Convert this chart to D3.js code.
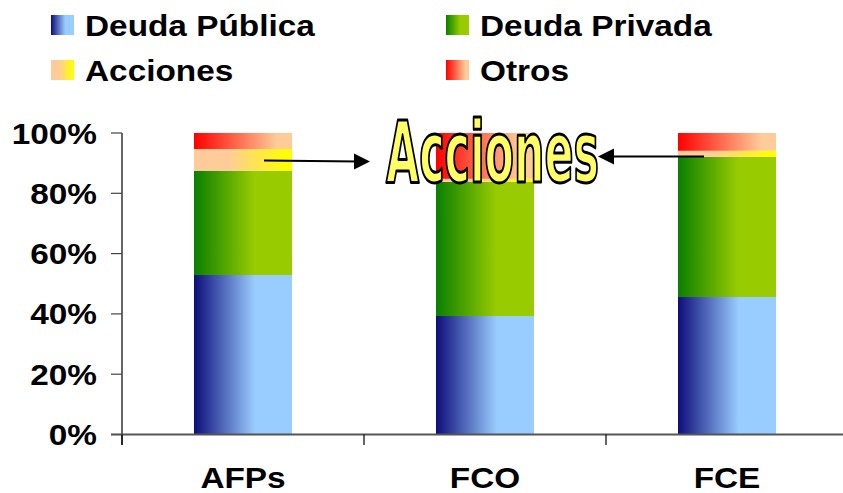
<!DOCTYPE html>
<html>
<head>
<meta charset="utf-8">
<script src="https://cdn.jsdelivr.net/npm/d3@7"></script>
<style>
html,body{margin:0;padding:0;background:#fff;}
svg{display:block;}
</style>
</head>
<body>
<svg id="chart" width="843" height="493"></svg>
<script>
// ---- data ----
const categories = ["AFPs", "FCO", "FCE"];
const seriesNames = ["Deuda Pública", "Deuda Privada", "Acciones", "Otros"];
const deudaPublica = [52.9, 39.3, 45.6];
const deudaPrivada = [34.6, 44.5, 46.5];
const acciones = [7.2, 1.0, 2.0];
const otros = [5.3, 15.2, 5.9];
const yTicks = [0, 20, 40, 60, 80, 100];
const yTickLabels = ["0%", "20%", "40%", "60%", "80%", "100%"];
const annotationText = "Acciones";

const svg = d3.select("#chart");
const FONT = "'Liberation Sans', Arial, sans-serif";
const STRETCH = 1.15;

// gradients
const defs = svg.append("defs");
const grads = [
  {id: "g0", stops: [[0, "#0d0d7a"], [0.62, "#99ccff"], [1, "#99ccff"]]},
  {id: "g1", stops: [[0, "#0a7f00"], [0.62, "#99cc00"], [1, "#99cc00"]]},
  {id: "g2", stops: [[0, "#ffcc99"], [0.35, "#ffcc99"], [0.95, "#ffff00"], [1, "#ffff00"]]},
  {id: "g3", stops: [[0, "#ff0000"], [0.85, "#ffcc99"], [1, "#ffcc99"]]}
];
grads.forEach(g => {
  const lg = defs.append("linearGradient").attr("id", g.id)
    .attr("x1", "0%").attr("x2", "100%").attr("y1", "0%").attr("y2", "0%");
  g.stops.forEach(s => lg.append("stop").attr("offset", s[0]).attr("stop-color", s[1]));
});

// scales
const x = d3.scaleBand().domain(categories).range([122, 848])
  .paddingInner(0.595).paddingOuter(0.2975);
const y = d3.scaleLinear().domain([0, 100]).range([434.5, 133]);

// stack
const rows = categories.map((c, i) => ({
  cat: c, s0: deudaPublica[i], s1: deudaPrivada[i], s2: acciones[i], s3: otros[i]
}));
const stack = d3.stack().keys(["s0", "s1", "s2", "s3"])(rows);

const barsG = svg.append("g");
stack.forEach((layer, li) => {
  barsG.selectAll(null).data(layer).enter().append("rect")
    .attr("x", d => x(d.data.cat))
    .attr("width", x.bandwidth())
    .attr("y", d => y(d[1]))
    .attr("height", d => y(d[0]) - y(d[1]))
    .attr("fill", `url(#g${li})`);
});

// stretched text helper
function sText(parent, tx, ty, str, size, anchor) {
  const g = parent.append("g").attr("transform", `translate(${tx},${ty}) scale(${STRETCH},1)`);
  g.append("text").attr("x", 0).attr("y", 0)
    .attr("font-family", FONT).attr("font-weight", "bold")
    .attr("font-size", size).attr("text-anchor", anchor || "start")
    .attr("fill", "#000").text(str);
  return g;
}

// y axis
const axG = svg.append("g");
axG.append("line").attr("x1", 122).attr("x2", 122).attr("y1", y(100)).attr("y2", 445)
  .attr("stroke", "#000").attr("stroke-width", 1.2);
yTicks.forEach((t, i) => {
  axG.append("line").attr("x1", 111).attr("x2", 122).attr("y1", y(t)).attr("y2", y(t))
    .attr("stroke", "#444").attr("stroke-width", 1.2);
  sText(axG, 97, y(t) + 10.5, yTickLabels[i], 29, "end");
});

// x axis
const step = x.step();
axG.append("line").attr("x1", 111).attr("x2", 843).attr("y1", y(0)).attr("y2", y(0))
  .attr("stroke", "#555").attr("stroke-width", 2);
[0, 1, 2].forEach(i => {
  const bx = 122 + i * step;
  axG.append("line").attr("x1", bx).attr("x2", bx).attr("y1", y(0)).attr("y2", 445)
    .attr("stroke", "#000").attr("stroke-width", 1.2);
});
categories.forEach(c => {
  sText(axG, x(c) + x.bandwidth() / 2, 487.5, c, 29, "middle");
});

// legend
const legendPos = [[51, 15], [446, 15], [51, 60], [446, 60]];
const legendOrder = [0, 1, 2, 3];
legendOrder.forEach((si, k) => {
  const [lx, ly] = legendPos[k];
  svg.append("rect").attr("x", lx).attr("y", ly).attr("width", 23).attr("height", 20)
    .attr("fill", `url(#g${si})`);
  sText(svg, lx + 34, ly + 20.5, seriesNames[si], 29, "start");
});

// annotation arrows
const ann = svg.append("g");
function arrow(x1, y1, x2, y2) {
  ann.append("line").attr("x1", x1).attr("y1", y1).attr("x2", x2 - Math.sign(x2 - x1) * 12).attr("y2", y2)
    .attr("stroke", "#000").attr("stroke-width", 2);
  const dir = Math.sign(x2 - x1);
  ann.append("path")
    .attr("d", `M${x2},${y2} L${x2 - dir * 16},${y2 - 8} L${x2 - dir * 16},${y2 + 8} Z`)
    .attr("fill", "#000");
}
arrow(264, 160.5, 370, 161.5);
arrow(704, 156.5, 598, 156.5);

// big annotation text
ann.append("text")
  .attr("x", 386).attr("y", 182)
  .attr("font-family", "'Liberation Sans Narrow', 'DejaVu Sans Condensed', Arial, sans-serif")
  .attr("font-weight", "bold")
  .attr("font-size", 86)
  .attr("textLength", 213)
  .attr("lengthAdjust", "spacingAndGlyphs")
  .attr("fill", "#ffff66")
  .attr("stroke", "#000")
  .attr("stroke-width", 3)
  .attr("stroke-linejoin", "round")
  .text(annotationText);
</script>
</body>
</html>
